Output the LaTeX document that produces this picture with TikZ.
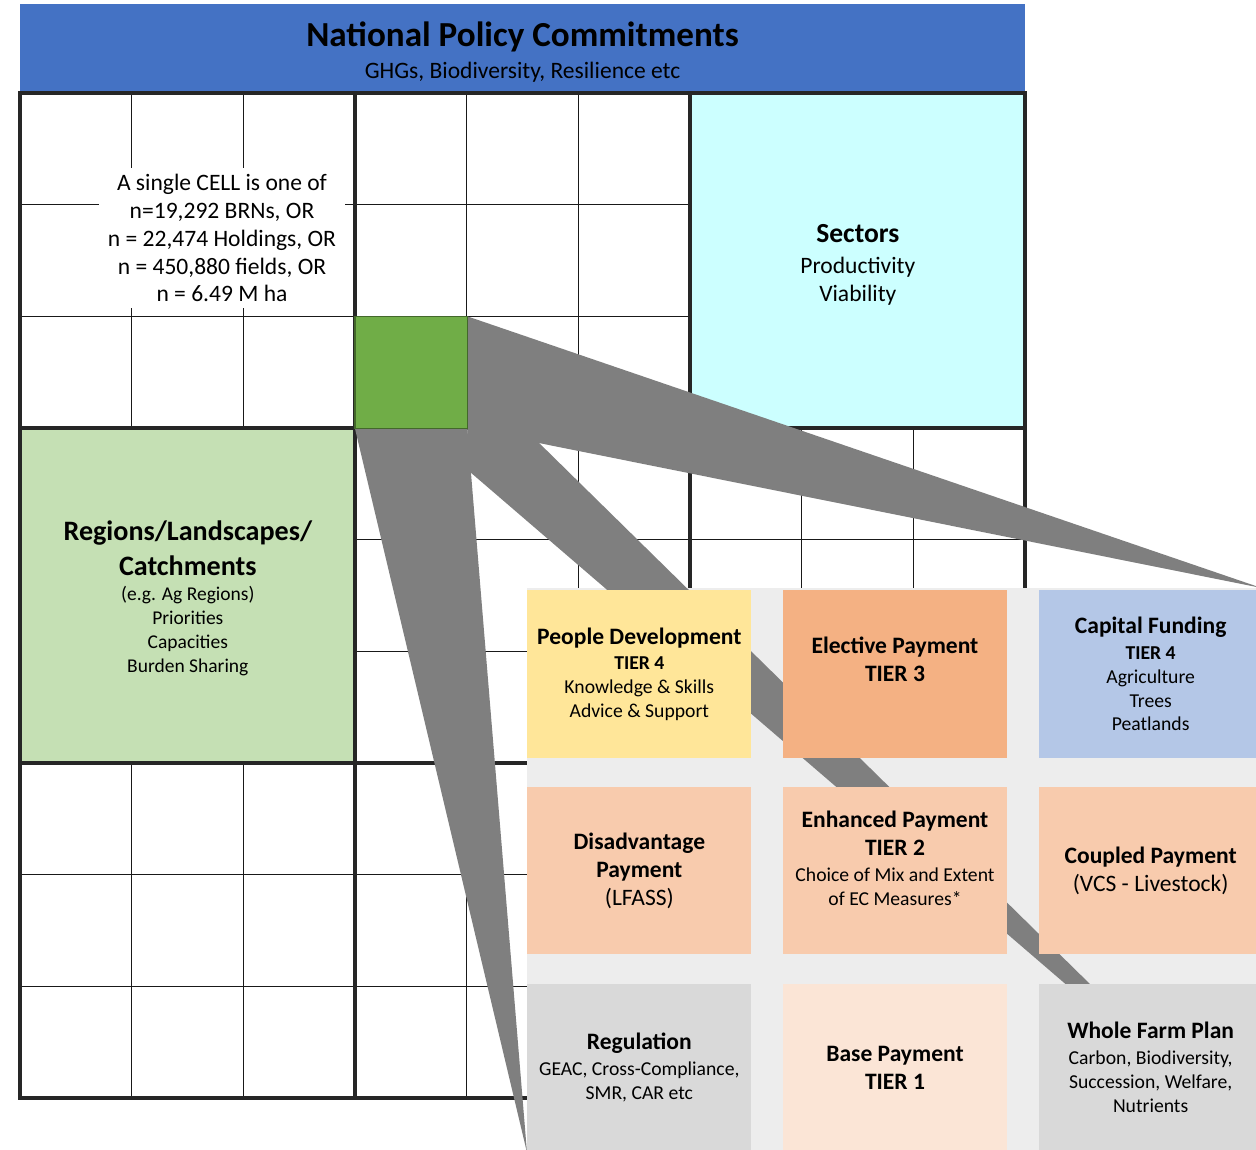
\documentclass[tikz,border=0pt]{standalone}
\usepackage{fontspec}
\setmainfont{Carlito}
\usepackage{xcolor}
\usepackage{tikz}
\usetikzlibrary{positioning,calc}

\definecolor{headblue}{HTML}{4472C4}
\definecolor{sectorcyan}{HTML}{CCFFFF}
\definecolor{regiongreen}{HTML}{C5E0B4}
\definecolor{cellgreen}{HTML}{70AD47}
\definecolor{wedgegray}{HTML}{7F7F7F}
\definecolor{panelgray}{HTML}{EDEDED}
\definecolor{peopleyellow}{HTML}{FFE699}
\definecolor{electorange}{HTML}{F4B183}
\definecolor{capitalblue}{HTML}{B4C7E7}
\definecolor{peach}{HTML}{F8CBAD}
\definecolor{basepeach}{HTML}{FBE5D6}
\definecolor{reggray}{HTML}{D9D9D9}

\newcommand{\boxhead}[1]{{\fontsize{13.4}{16}\selectfont\bfseries #1}}

\begin{document}
\begin{tikzpicture}[x=0.02cm,y=-0.02cm,
    thin line/.style={line width=0.8pt,black!90},
    thick line/.style={line width=2pt,black!85,line cap=rect},
    block/.style={minimum width=6.7cm,minimum height=6.7cm,anchor=north west,inner sep=0pt},
    box/.style={minimum width=4.48cm,minimum height=3.35cm,inner sep=2pt,align=center,font=\fontsize{11.2}{13.6}\selectfont},
    every node/.style={text=black}]
  \useasboundingbox (0,0) rectangle (1256,1149);
  % header
  \node[fill=headblue,minimum width=20.1cm,minimum height=1.76cm,anchor=north west,inner sep=0pt] (header) at (20,4) {};
  \node[font=\fontsize{20}{24}\selectfont\bfseries] (title) at (522.5,37) {National Policy Commitments};
  \node[font=\fontsize{13.4}{16}\selectfont] (subtitle) at (522.5,72) {GHGs, Biodiversity, Resilience etc};
  % fine grid
  \foreach \i in {0,...,9}{
    \draw[thin line] ({20+\i*111.667},93) -- ({20+\i*111.667},1098);
    \draw[thin line] (20,{93+\i*111.667}) -- (1025,{93+\i*111.667});
  }
  \node[block,fill=sectorcyan] (sectors) at (690,93) {};
  \node[align=center,font=\fontsize{13.4}{15.9}\selectfont] (sectorstext) at ($(sectors.center)+(0,4)$)
    {{\fontsize{15.7}{18}\selectfont\bfseries Sectors}\\[1.7pt]Productivity\\Viability};
  \node[block,fill=regiongreen] (regions) at (20,428) {};
  \node[align=center,font=\fontsize{11.1}{13.6}\selectfont] (regionstext) at ($(regions.center)+(0,2.5)$)
    {{\fontsize{16}{19}\selectfont\bfseries Regions/Landscapes/}\\[5pt]{\fontsize{16}{19}\selectfont\bfseries Catchments}\\[0.6pt](e.g. Ag Regions)\\Priorities\\Capacities\\Burden Sharing};
  \node[fill=white,minimum width=4.92cm,minimum height=2.8cm,align=center,font=\fontsize{13.4}{15.9}\selectfont] (celltext) at (222,238)
    {A single CELL is one of\\n=19,292 BRNs, OR\\n = 22,474 Holdings, OR\\n = 450,880 fields, OR\\n = 6.49 M ha};
  % block borders
  \foreach \i in {0,...,3}{
    \draw[thick line] ({20+\i*335},93) -- ({20+\i*335},1098);
    \draw[thick line] (20,{93+\i*335}) -- (1025,{93+\i*335});
  }
  % zoomed cell and its panel
  \node[fill=cellgreen,minimum width=2.233cm,minimum height=2.233cm,anchor=north west,inner sep=0pt] (cell) at (355,316.33) {};
  \node[fill=panelgray,minimum width=14.68cm,minimum height=11.28cm,anchor=north west,inner sep=0pt] (panel) at (527,588) {};
  \fill[wedgegray] (cell.north east) -- (panel.north east) -- (cell.south east) -- cycle;
  \fill[wedgegray] (cell.south west) -- (cell.south east) -- (panel.south west) -- cycle;
  \fill[wedgegray] (cell.east) -- (panel.south east) -- ($(cell.south east)+(0,41)$) -- cycle;
  \draw[line width=0.6pt,cellgreen!60!black] (cell.south west) rectangle (cell.north east);
  % payment boxes
  \node[box,fill=peopleyellow,anchor=north west] (people) at (527,590)
    {\boxhead{People Development}\\[1pt]\textbf{TIER 4}\\Knowledge \& Skills\\Advice \& Support};
  \node[box,fill=electorange,right=0.62cm of people,text depth=17pt] (elective)
    {\boxhead{Elective Payment}\\[2.4pt]\boxhead{TIER 3}};
  \node[box,fill=capitalblue,right=0.62cm of elective] (capital)
    {\boxhead{Capital Funding}\\[1pt]\textbf{TIER 4}\\Agriculture\\Trees\\Peatlands};
  \node[box,fill=peach,below=0.57cm of people] (disadv)
    {\boxhead{Disadvantage}\\[2.4pt]\boxhead{Payment}\\[2.4pt]{\fontsize{13.4}{16}\selectfont (LFASS)}};
  \node[box,fill=peach,right=0.62cm of disadv,text depth=14.5pt] (enhanced)
    {\boxhead{Enhanced Payment}\\[2.4pt]\boxhead{TIER 2}\\[1pt]Choice of Mix and Extent\\of EC Measures*};
  \node[box,fill=peach,right=0.62cm of enhanced] (coupled)
    {\boxhead{Coupled Payment}\\[2.4pt]{\fontsize{13.4}{16}\selectfont (VCS - Livestock)}};
  \node[box,fill=reggray,below=0.57cm of disadv] (regulation)
    {\boxhead{Regulation}\\[1pt]GEAC, Cross-Compliance,\\SMR, CAR etc};
  \node[box,fill=basepeach,right=0.62cm of regulation] (base)
    {\boxhead{Base Payment}\\[2.4pt]\boxhead{TIER 1}};
  \node[box,fill=reggray,right=0.62cm of base] (farmplan)
    {\boxhead{Whole Farm Plan}\\[1pt]Carbon, Biodiversity,\\Succession, Welfare,\\Nutrients};
\end{tikzpicture}
\end{document}
